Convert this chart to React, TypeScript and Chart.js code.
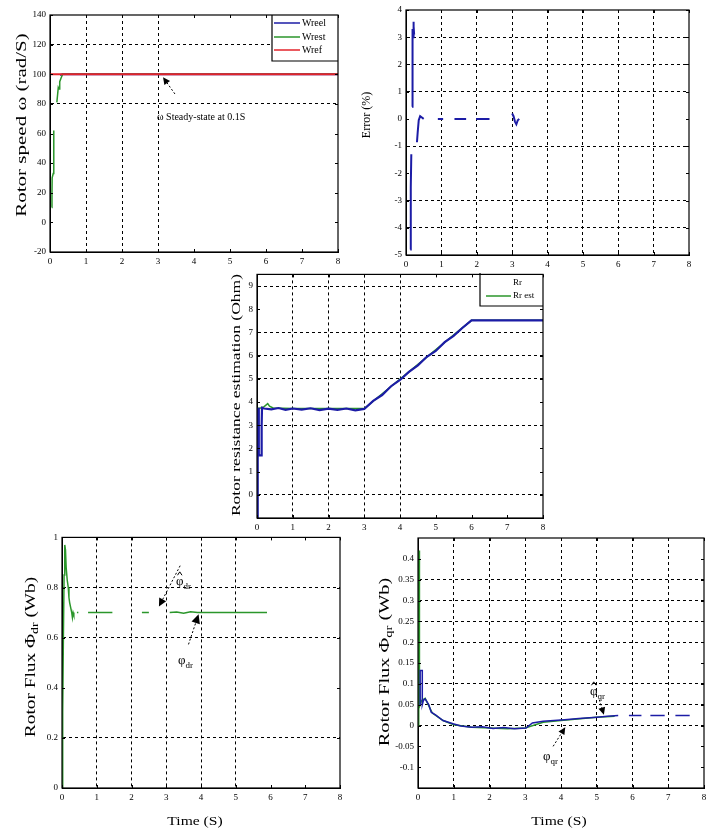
import React, { useEffect, useRef } from "react";
import { Chart, registerables } from "chart.js";

Chart.register(...registerables);

const FONT = '"Liberation Serif", "DejaVu Serif", serif';
const BLUE = "#1c1ca6";
const GREEN = "#2b962b";
const RED = "#e3232b";

// ---------- shared ----------
const timeTickValues = [0, 1, 2, 3, 4, 5, 6, 7, 8];

// ---------- panel 1 : rotor speed ----------
const speedTickValues = [-20, 0, 20, 40, 60, 80, 100, 120, 140];
const speedGridValues = [80, 100, 120];
const speedGridTimes = [1, 2, 3];
const speedRefTime = [0, 8];
const speedRefValue = [100, 100];
const speedRealTime = [0.28, 0.35, 8];
const speedRealValue = [99.5, 100, 100];
const speedEstTime = [0.05, 0.055, 0.06, 0.09, 0.1, 0.11, 0.13, 0.19, 0.21, 0.23, 0.25, 0.27, 0.3, 0.35, 8];
const speedEstValue = [10, 20, 30, 33, 50, 62, null, 81, 86, 91, 90, 95, 97, 100, 100];
const speedLegendLabels = ["Wreel", "Wrest", "Wref"];

// ---------- panel 2 : speed error ----------
const errTickValues = [-5, -4, -3, -2, -1, 0, 1, 2, 3, 4];
const errGridValues = [-4, -3, -1, 1, 2, 3];
const errGridTimes = [1, 2, 3, 4, 5, 6, 7];
const errTime = [0.12, 0.13, 0.14, 0.15, 0.16, 0.17, 0.18, 0.19, 0.2, 0.21, 0.22, 0.23, 0.28, 0.31, 0.33, 0.36, 0.4, 0.45, 0.5, 0.6, 0.9, 1.05, 1.1, 1.37, 1.7, 1.8, 1.98, 2.36, 2.5, 3.0, 3.04, 3.08, 3.12, 3.16, 3.2];
const errValue = [-4.8, -3.5, -2.5, -1.3, null, 0.45, 2.8, 3.3, 3.0, 3.57, 3.4, 3.1, null, -0.86, -0.5, -0.05, 0.1, 0.05, 0.0, null, 0, 0, null, 0, 0, null, 0, 0, null, 0.2, 0.1, -0.1, -0.2, -0.05, 0];

// ---------- panel 3 : rotor resistance ----------
const resTickValues = [0, 1, 2, 3, 4, 5, 6, 7, 8, 9];
const resGridValues = [0, 3, 5, 6, 7, 9];
const resGridTimes = [1, 2, 3, 4];
const resBlueTime = [0, 0.02, 0.03, 0.05, 0.05, 0.13, 0.13, 0.14, 0.2, 0.4, 0.6, 0.8, 1.0, 1.25, 1.5, 1.75, 2.0, 2.25, 2.5, 2.75, 3.0, 3.25, 3.5, 3.75, 4.0, 4.25, 4.5, 4.75, 5.0, 5.25, 5.5, 5.75, 6.0, 8.0];
const resBlueValue = [-1, 1.5, 3.75, 3.0, 1.7, 1.7, 3.0, 3.75, 3.72, 3.68, 3.74, 3.66, 3.72, 3.67, 3.73, 3.65, 3.71, 3.66, 3.72, 3.64, 3.7, 4.05, 4.3, 4.68, 4.95, 5.3, 5.58, 5.95, 6.2, 6.58, 6.85, 7.2, 7.52, 7.52];
const resGreenTime = [0, 0.1, 0.2, 0.3, 0.35, 0.45, 1, 2, 3, 6, 8];
const resGreenValue = [3.72, 3.74, 3.8, 3.93, 3.82, 3.74, 3.72, 3.72, 3.72, 7.52, 7.52];
const resLegendLabels = ["Rr", "Rr est"];

// ---------- panel 4 : rotor flux d ----------
const fluxDTickValues = [0, 0.2, 0.4, 0.6, 0.8, 1];
const fluxDGridValues = [0.2, 0.6, 0.8];
const fluxDGridTimes = [1, 2, 3, 4, 5];
const fluxDTime = [0, 0.02, 0.04, 0.06, 0.08, 0.1, 0.12, 0.15, 0.18, 0.2, 0.22, 0.25, 0.28, 0.3, 0.32, 0.34, 0.4, 0.43, 0.47, 0.6, 0.75, 1.0, 1.45, 1.5, 2.3, 2.5, 2.6, 3.1, 3.3, 3.5, 3.7, 3.9, 4.0, 5.0, 5.9];
const fluxDValue = [0, 0.3, 0.6, 0.85, 0.97, 0.95, 0.88, 0.83, 0.8, 0.76, 0.74, 0.72, 0.7, 0.68, 0.7, 0.69, null, 0.7, 0.7, null, 0.7, 0.7, 0.7, null, 0.7, 0.7, null, 0.7, 0.702, 0.697, 0.703, 0.7, 0.7, 0.7, 0.7];

// ---------- panel 5 : rotor flux q ----------
const fluxQTickValues = [-0.1, -0.05, 0, 0.05, 0.1, 0.15, 0.2, 0.25, 0.3, 0.35, 0.4];
const fluxQGridValues = [0, 0.05, 0.1, 0.2, 0.25, 0.3, 0.35];
const fluxQGridTimes = [1, 2, 3, 4, 5, 6, 7];
const fluxQGreenTime = [0, 0.02, 0.03, 0.035, 0.045, 0.06, 0.1, 0.2, 0.4, 0.7, 1, 1.5, 2, 2.5, 3, 3.5, 4, 5, 5.5];
const fluxQGreenValue = [0, 0.25, 0.42, 0.3, 0.1, 0.05, 0.06, 0.065, 0.03, 0.012, 0.002, -0.004, -0.006, -0.008, -0.006, 0.008, 0.012, 0.02, 0.022];
const fluxQBlueTime = [0.06, 0.06, 0.12, 0.12, 0.15, 0.2, 0.3, 0.37, 0.5, 0.7, 0.98, 1.2, 1.5, 1.8, 2.1, 2.4, 2.7, 3.02, 3.2, 3.5, 3.8, 4.1, 4.5, 5, 5.3, 5.6, 5.7, 5.9, 6.25, 6.35, 6.5, 6.9, 7.0, 7.2, 7.6];
const fluxQBlueValue = [0.048, 0.132, 0.132, 0.05, 0.06, 0.064, 0.05, 0.032, 0.025, 0.012, 0.004, -0.001, -0.004, -0.003, -0.007, -0.005, -0.008, -0.006, 0.006, 0.01, 0.012, 0.014, 0.017, 0.02, 0.022, 0.024, null, 0.024, 0.024, null, 0.024, 0.024, null, 0.024, 0.024];

// ---------- helpers ----------
type Part = { t: string; sub?: boolean; hat?: boolean };
type TextItem = { x: number; y: number; parts: Part[]; size: number; rot?: number; align?: "left" | "center"; stretch?: number; data?: boolean };
type ArrowItem = { from: [number, number]; to: [number, number]; head: number };
type Series = { time: number[]; value: (number | null)[]; color: string; width: number; order: number; label: string };
type Legend = { l: number; t: number; r: number; b: number; x1: number; x2: number; tx: number; size: number; entries: { label: string; color: string | null; y: number }[] };
type PanelSpec = {
  id: string;
  canvas: { left: number; top: number; width: number; height: number };
  plot: { left: number; top: number; right: number; bottom: number };
  yMin: number; yMax: number;
  yTicks: number[]; yGrid: number[]; xGrid: number[];
  yFormat: (v: number) => string;
  series: Series[];
  legend?: Legend;
  texts: TextItem[];
  arrows: ArrowItem[];
};

const near = (list: number[], v: number) => list.some((g) => Math.abs(g - v) < 1e-6);
const pts = (t: number[], v: (number | null)[]) => t.map((x, i) => ({ x, y: v[i] }));

function drawParts(ctx: CanvasRenderingContext2D, it: TextItem, x: number, y: number) {
  const rot = it.rot ?? 0, stretch = it.stretch ?? 1, align = it.align ?? "center", size = it.size;
  ctx.save();
  ctx.translate(x, y);
  ctx.rotate(rot);
  ctx.scale(stretch, 1);
  ctx.textBaseline = "middle";
  ctx.textAlign = "left";
  ctx.fillStyle = "#000";
  const fontFor = (p: Part) => `${p.sub ? Math.round(size * 0.72) : size}px ${FONT}`;
  const widths = it.parts.map((p) => { ctx.font = fontFor(p); return ctx.measureText(p.t).width; });
  const total = widths.reduce((a, b) => a + b, 0);
  let cx = align === "center" ? -total / 2 : 0;
  it.parts.forEach((p, i) => {
    ctx.font = fontFor(p);
    ctx.fillText(p.t, cx, p.sub ? size * 0.32 : 0);
    if (p.hat) {
      ctx.beginPath();
      ctx.lineWidth = 1;
      ctx.strokeStyle = "#000";
      ctx.moveTo(cx + widths[i] * 0.2, -size * 0.52);
      ctx.lineTo(cx + widths[i] * 0.5, -size * 0.78);
      ctx.lineTo(cx + widths[i] * 0.8, -size * 0.52);
      ctx.stroke();
    }
    cx += widths[i];
  });
  ctx.restore();
}

function makeDecor(spec: PanelSpec) {
  return {
    id: "decor",
    afterDraw(chart: any) {
      const ctx: CanvasRenderingContext2D = chart.ctx;
      const { left, top, right, bottom } = chart.chartArea;
      const xs = chart.scales.x, ys = chart.scales.y;
      const ox = spec.canvas.left, oy = spec.canvas.top;
      ctx.save();
      // inward tick marks
      ctx.strokeStyle = "#000";
      ctx.lineWidth = 1;
      ctx.setLineDash([]);
      ctx.beginPath();
      for (const v of timeTickValues) {
        const px = Math.round(xs.getPixelForValue(v)) + 0.5;
        ctx.moveTo(px, bottom); ctx.lineTo(px, bottom - 3);
        ctx.moveTo(px, top); ctx.lineTo(px, top + 3);
      }
      for (const v of spec.yTicks) {
        const py = Math.round(ys.getPixelForValue(v)) + 0.5;
        ctx.moveTo(left, py); ctx.lineTo(left + 3, py);
        ctx.moveTo(right, py); ctx.lineTo(right - 3, py);
      }
      ctx.stroke();
      // legend
      const lg = spec.legend;
      if (lg) {
        ctx.fillStyle = "#fff";
        ctx.fillRect(lg.l - ox, lg.t - oy, lg.r - lg.l, lg.b - lg.t);
        ctx.strokeStyle = "#000";
        ctx.lineWidth = 1.2;
        ctx.beginPath();
        ctx.moveTo(lg.l - ox, lg.t - oy);
        ctx.lineTo(lg.l - ox, lg.b - oy);
        ctx.lineTo(lg.r - ox, lg.b - oy);
        ctx.stroke();
        for (const e of lg.entries) {
          if (e.color) {
            ctx.strokeStyle = e.color;
            ctx.lineWidth = 1.5;
            ctx.beginPath();
            ctx.moveTo(lg.x1 - ox, e.y - oy);
            ctx.lineTo(lg.x2 - ox, e.y - oy);
            ctx.stroke();
          }
          drawParts(ctx, { x: 0, y: 0, parts: [{ t: e.label }], size: lg.size, align: "left" }, lg.tx - ox, e.y - oy);
        }
      }
      // frame
      ctx.strokeStyle = "#000";
      ctx.lineWidth = 1.2;
      ctx.strokeRect(left, top, right - left, bottom - top);
      // arrows
      for (const a of spec.arrows) {
        const x1 = xs.getPixelForValue(a.from[0]), y1 = ys.getPixelForValue(a.from[1]);
        const x2 = xs.getPixelForValue(a.to[0]), y2 = ys.getPixelForValue(a.to[1]);
        const ang = Math.atan2(y2 - y1, x2 - x1);
        ctx.strokeStyle = "#000";
        ctx.lineWidth = 1;
        ctx.setLineDash([2, 2]);
        ctx.beginPath();
        ctx.moveTo(x1, y1);
        ctx.lineTo(x2 - Math.cos(ang) * a.head * 0.8, y2 - Math.sin(ang) * a.head * 0.8);
        ctx.stroke();
        ctx.setLineDash([]);
        ctx.fillStyle = "#000";
        ctx.beginPath();
        ctx.moveTo(x2, y2);
        ctx.lineTo(x2 - Math.cos(ang - 0.45) * a.head, y2 - Math.sin(ang - 0.45) * a.head);
        ctx.lineTo(x2 - Math.cos(ang + 0.45) * a.head, y2 - Math.sin(ang + 0.45) * a.head);
        ctx.closePath();
        ctx.fill();
      }
      // texts
      for (const it of spec.texts) {
        const px = it.data ? xs.getPixelForValue(it.x) : it.x - ox;
        const py = it.data ? ys.getPixelForValue(it.y) : it.y - oy;
        drawParts(ctx, it, px, py);
      }
      ctx.restore();
    },
  };
}

function buildConfig(spec: PanelSpec): any {
  const c = spec.canvas, p = spec.plot;
  const tickFont = { family: FONT, size: 9 };
  return {
    type: "line",
    data: {
      datasets: spec.series.map((s) => ({
        label: s.label,
        data: pts(s.time, s.value),
        borderColor: s.color,
        borderWidth: s.width,
        pointRadius: 0,
        fill: false,
        spanGaps: false,
        tension: 0,
        order: s.order,
      })),
    },
    options: {
      responsive: false,
      maintainAspectRatio: false,
      animation: false,
      devicePixelRatio: 1,
      events: [],
      layout: { padding: { left: 0, top: p.top - c.top, right: c.left + c.width - p.right, bottom: 0 } },
      plugins: { legend: { display: false }, tooltip: { enabled: false }, title: { display: false } },
      scales: {
        x: {
          type: "linear",
          min: 0,
          max: 8,
          afterFit: (s: any) => { s.height = c.top + c.height - p.bottom; },
          afterBuildTicks: (s: any) => { s.ticks = timeTickValues.map((v) => ({ value: v })); },
          ticks: { font: tickFont, color: "#000", padding: 4, maxRotation: 0, autoSkip: false, callback: (v: any) => String(v) },
          grid: {
            drawTicks: false,
            lineWidth: 1,
            color: (ctx: any) => (ctx.tick && near(spec.xGrid, ctx.tick.value) ? "#000" : "rgba(0,0,0,0)"),
          },
          border: { display: true, color: "#000", width: 1, dash: [3, 3] },
        },
        y: {
          type: "linear",
          min: spec.yMin,
          max: spec.yMax,
          afterFit: (s: any) => { s.width = p.left - c.left; },
          afterBuildTicks: (s: any) => { s.ticks = spec.yTicks.map((v) => ({ value: v })); },
          ticks: { font: tickFont, color: "#000", padding: 4, autoSkip: false, callback: (v: any) => spec.yFormat(Number(v)) },
          grid: {
            drawTicks: false,
            lineWidth: 1,
            color: (ctx: any) => (ctx.tick && near(spec.yGrid, ctx.tick.value) ? "#000" : "rgba(0,0,0,0)"),
          },
          border: { display: true, color: "#000", width: 1, dash: [3, 3] },
        },
      },
    },
    plugins: [makeDecor(spec)],
  };
}

const fmt = (v: number) => String(Number(v.toFixed(2)));

const panels: PanelSpec[] = [
  {
    id: "speed",
    canvas: { left: 0, top: 0, width: 356, height: 272 },
    plot: { left: 50, top: 15, right: 338, bottom: 252 },
    yMin: -20, yMax: 140,
    yTicks: speedTickValues, yGrid: speedGridValues, xGrid: speedGridTimes,
    yFormat: fmt,
    series: [
      { label: speedLegendLabels[0], time: speedRealTime, value: speedRealValue, color: BLUE, width: 2, order: 2 },
      { label: speedLegendLabels[1], time: speedEstTime, value: speedEstValue, color: GREEN, width: 1.5, order: 1 },
      { label: speedLegendLabels[2], time: speedRefTime, value: speedRefValue, color: RED, width: 2, order: 0 },
    ],
    legend: {
      l: 272, t: 15, r: 338, b: 61, x1: 274, x2: 300, tx: 302, size: 10,
      entries: [
        { label: speedLegendLabels[0], color: BLUE, y: 23 },
        { label: speedLegendLabels[1], color: GREEN, y: 37 },
        { label: speedLegendLabels[2], color: RED, y: 50 },
      ],
    },
    texts: [
      { x: 22, y: 125, parts: [{ t: "Rotor speed ω (rad/S)" }], size: 15, rot: -Math.PI / 2, stretch: 1.4 },
      { x: 157, y: 117, parts: [{ t: "ω Steady-state at 0.1S" }], size: 10, align: "left" },
    ],
    arrows: [{ from: [3.47, 86.7], to: [3.14, 98], head: 8 }],
  },
  {
    id: "error",
    canvas: { left: 356, top: 0, width: 360, height: 272 },
    plot: { left: 406, top: 10, right: 689, bottom: 255 },
    yMin: -5, yMax: 4,
    yTicks: errTickValues, yGrid: errGridValues, xGrid: errGridTimes,
    yFormat: fmt,
    series: [{ label: "error", time: errTime, value: errValue, color: BLUE, width: 2, order: 0 }],
    texts: [{ x: 367, y: 115, parts: [{ t: "Error (%)" }], size: 12, rot: -Math.PI / 2 }],
    arrows: [],
  },
  {
    id: "resistance",
    canvas: { left: 200, top: 265, width: 360, height: 270 },
    plot: { left: 257, top: 273, right: 543, bottom: 518 },
    yMin: -1, yMax: 9.5,
    yTicks: resTickValues, yGrid: resGridValues, xGrid: resGridTimes,
    yFormat: fmt,
    series: [
      { label: resLegendLabels[0], time: resBlueTime, value: resBlueValue, color: BLUE, width: 2.2, order: 0 },
      { label: resLegendLabels[1], time: resGreenTime, value: resGreenValue, color: GREEN, width: 1.5, order: 1 },
    ],
    legend: {
      l: 480, t: 273, r: 543, b: 306, x1: 486, x2: 511, tx: 513, size: 9,
      entries: [
        { label: resLegendLabels[0], color: null, y: 283 },
        { label: resLegendLabels[1], color: GREEN, y: 296 },
      ],
    },
    texts: [
      { x: 237, y: 395, parts: [{ t: "Rotor resistance estimation (Ohm)" }], size: 13, rot: -Math.PI / 2, stretch: 1.35 },
    ],
    arrows: [],
  },
  {
    id: "fluxd",
    canvas: { left: 0, top: 528, width: 356, height: 308 },
    plot: { left: 62, top: 535, right: 340, bottom: 788 },
    yMin: 0, yMax: 1,
    yTicks: fluxDTickValues, yGrid: fluxDGridValues, xGrid: fluxDGridTimes,
    yFormat: fmt,
    series: [{ label: "flux d", time: fluxDTime, value: fluxDValue, color: GREEN, width: 1.5, order: 0 }],
    texts: [
      { x: 31, y: 657, parts: [{ t: "Rotor Flux Φ" }, { t: "dr", sub: true }, { t: " (Wb)" }], size: 14, rot: -Math.PI / 2, stretch: 1.38 },
      { x: 195, y: 822, parts: [{ t: "Time (S)" }], size: 13, stretch: 1.2 },
      { x: 176, y: 582, parts: [{ t: "φ", hat: true }, { t: "dr", sub: true }], size: 13, align: "left" },
      { x: 178, y: 661, parts: [{ t: "φ" }, { t: "dr", sub: true }], size: 13, align: "left" },
    ],
    arrows: [
      { from: [3.4, 0.887], to: [2.79, 0.724], head: 9 },
      { from: [3.64, 0.573], to: [3.93, 0.693], head: 10 },
    ],
  },
  {
    id: "fluxq",
    canvas: { left: 356, top: 528, width: 360, height: 308 },
    plot: { left: 418, top: 538, right: 704, bottom: 788 },
    yMin: -0.15, yMax: 0.45,
    yTicks: fluxQTickValues, yGrid: fluxQGridValues, xGrid: fluxQGridTimes,
    yFormat: fmt,
    series: [
      { label: "flux q est", time: fluxQBlueTime, value: fluxQBlueValue, color: BLUE, width: 1.5, order: 0 },
      { label: "flux q", time: fluxQGreenTime, value: fluxQGreenValue, color: GREEN, width: 1.5, order: 1 },
    ],
    texts: [
      { x: 385, y: 662, parts: [{ t: "Rotor Flux Φ" }, { t: "qr", sub: true }, { t: " (Wb)" }], size: 14, rot: -Math.PI / 2, stretch: 1.45 },
      { x: 559, y: 822, parts: [{ t: "Time (S)" }], size: 13, stretch: 1.2 },
      { x: 590, y: 692, parts: [{ t: "φ", hat: true }, { t: "qr", sub: true }], size: 13, align: "left" },
      { x: 543, y: 757, parts: [{ t: "φ" }, { t: "qr", sub: true }], size: 13, align: "left" },
    ],
    arrows: [
      { from: [5.07, 0.062], to: [5.2, 0.026], head: 8 },
      { from: [3.78, -0.05], to: [4.12, -0.004], head: 8 },
    ],
  },
];

function Panel({ spec }: { spec: PanelSpec }) {
  const ref = useRef<HTMLCanvasElement>(null);
  useEffect(() => {
    if (!ref.current) return;
    const chart = new Chart(ref.current, buildConfig(spec));
    return () => chart.destroy();
  }, [spec]);
  const c = spec.canvas;
  return (
    <canvas
      ref={ref}
      width={c.width}
      height={c.height}
      style={{ position: "absolute", left: c.left, top: c.top, width: c.width, height: c.height }}
    />
  );
}

export default function App() {
  return (
    <div style={{ position: "absolute", left: 0, top: 0, width: 716, height: 836, background: "#fff", overflow: "hidden" }}>
      {panels.map((p) => (
        <Panel key={p.id} spec={p} />
      ))}
    </div>
  );
}
